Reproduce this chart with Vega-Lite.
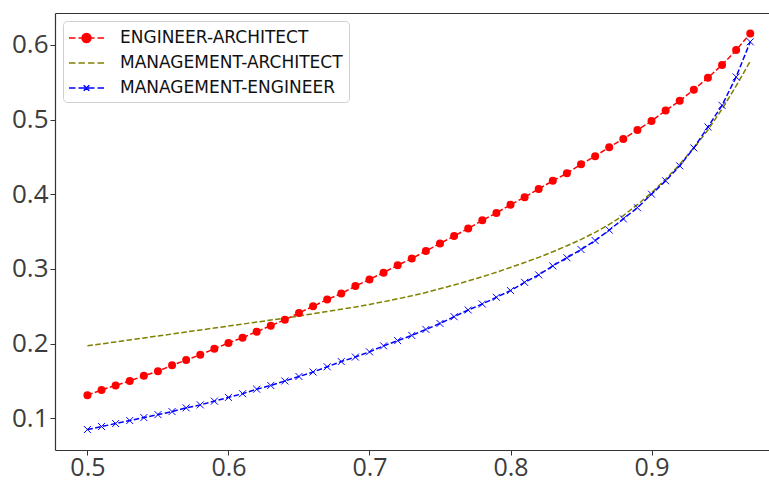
{
  "$schema": "https://vega.github.io/schema/vega-lite/v6.json",
  "width": 714,
  "height": 437,
  "autosize": {"type": "none"},
  "padding": {"left": 55, "top": 13, "right": 0, "bottom": 32},
  "background": "white",
  "config": {
    "view": {"stroke": null},
    "axis": {
      "grid": false,
      "title": null,
      "domainColor": "#333333",
      "domainWidth": 1.2,
      "tickColor": "#333333",
      "tickSize": 5,
      "tickWidth": 1,
      "labelFont": "Open Sans",
      "labelFontSize": 26,
      "labelColor": "#3c3c3c",
      "labelPadding": 2
    }
  },
  "data": {
    "values": [
      {"p":0.50,"v":0.131,"series":"ENGINEER-ARCHITECT"},{"p":0.51,"v":0.138,"series":"ENGINEER-ARCHITECT"},{"p":0.52,"v":0.144,"series":"ENGINEER-ARCHITECT"},{"p":0.53,"v":0.150,"series":"ENGINEER-ARCHITECT"},{"p":0.54,"v":0.157,"series":"ENGINEER-ARCHITECT"},{"p":0.55,"v":0.163,"series":"ENGINEER-ARCHITECT"},{"p":0.56,"v":0.171,"series":"ENGINEER-ARCHITECT"},{"p":0.57,"v":0.178,"series":"ENGINEER-ARCHITECT"},{"p":0.58,"v":0.185,"series":"ENGINEER-ARCHITECT"},{"p":0.59,"v":0.193,"series":"ENGINEER-ARCHITECT"},
      {"p":0.60,"v":0.201,"series":"ENGINEER-ARCHITECT"},{"p":0.61,"v":0.208,"series":"ENGINEER-ARCHITECT"},{"p":0.62,"v":0.216,"series":"ENGINEER-ARCHITECT"},{"p":0.63,"v":0.224,"series":"ENGINEER-ARCHITECT"},{"p":0.64,"v":0.232,"series":"ENGINEER-ARCHITECT"},{"p":0.65,"v":0.241,"series":"ENGINEER-ARCHITECT"},{"p":0.66,"v":0.250,"series":"ENGINEER-ARCHITECT"},{"p":0.67,"v":0.259,"series":"ENGINEER-ARCHITECT"},{"p":0.68,"v":0.267,"series":"ENGINEER-ARCHITECT"},{"p":0.69,"v":0.277,"series":"ENGINEER-ARCHITECT"},
      {"p":0.70,"v":0.286,"series":"ENGINEER-ARCHITECT"},{"p":0.71,"v":0.295,"series":"ENGINEER-ARCHITECT"},{"p":0.72,"v":0.305,"series":"ENGINEER-ARCHITECT"},{"p":0.73,"v":0.314,"series":"ENGINEER-ARCHITECT"},{"p":0.74,"v":0.324,"series":"ENGINEER-ARCHITECT"},{"p":0.75,"v":0.334,"series":"ENGINEER-ARCHITECT"},{"p":0.76,"v":0.344,"series":"ENGINEER-ARCHITECT"},{"p":0.77,"v":0.354,"series":"ENGINEER-ARCHITECT"},{"p":0.78,"v":0.365,"series":"ENGINEER-ARCHITECT"},{"p":0.79,"v":0.375,"series":"ENGINEER-ARCHITECT"},
      {"p":0.80,"v":0.386,"series":"ENGINEER-ARCHITECT"},{"p":0.81,"v":0.396,"series":"ENGINEER-ARCHITECT"},{"p":0.82,"v":0.407,"series":"ENGINEER-ARCHITECT"},{"p":0.83,"v":0.418,"series":"ENGINEER-ARCHITECT"},{"p":0.84,"v":0.428,"series":"ENGINEER-ARCHITECT"},{"p":0.85,"v":0.440,"series":"ENGINEER-ARCHITECT"},{"p":0.86,"v":0.451,"series":"ENGINEER-ARCHITECT"},{"p":0.87,"v":0.463,"series":"ENGINEER-ARCHITECT"},{"p":0.88,"v":0.474,"series":"ENGINEER-ARCHITECT"},{"p":0.89,"v":0.486,"series":"ENGINEER-ARCHITECT"},
      {"p":0.90,"v":0.498,"series":"ENGINEER-ARCHITECT"},{"p":0.91,"v":0.512,"series":"ENGINEER-ARCHITECT"},{"p":0.92,"v":0.525,"series":"ENGINEER-ARCHITECT"},{"p":0.93,"v":0.540,"series":"ENGINEER-ARCHITECT"},{"p":0.94,"v":0.556,"series":"ENGINEER-ARCHITECT"},{"p":0.95,"v":0.573,"series":"ENGINEER-ARCHITECT"},{"p":0.96,"v":0.593,"series":"ENGINEER-ARCHITECT"},{"p":0.97,"v":0.615,"series":"ENGINEER-ARCHITECT"},

      {"p":0.50,"v":0.197,"series":"MANAGEMENT-ARCHITECT"},{"p":0.51,"v":0.1997,"series":"MANAGEMENT-ARCHITECT"},{"p":0.52,"v":0.2023,"series":"MANAGEMENT-ARCHITECT"},{"p":0.53,"v":0.205,"series":"MANAGEMENT-ARCHITECT"},{"p":0.54,"v":0.2076,"series":"MANAGEMENT-ARCHITECT"},{"p":0.55,"v":0.2102,"series":"MANAGEMENT-ARCHITECT"},{"p":0.56,"v":0.2129,"series":"MANAGEMENT-ARCHITECT"},{"p":0.57,"v":0.2156,"series":"MANAGEMENT-ARCHITECT"},{"p":0.58,"v":0.2182,"series":"MANAGEMENT-ARCHITECT"},{"p":0.59,"v":0.2209,"series":"MANAGEMENT-ARCHITECT"},
      {"p":0.60,"v":0.2235,"series":"MANAGEMENT-ARCHITECT"},{"p":0.61,"v":0.2262,"series":"MANAGEMENT-ARCHITECT"},{"p":0.62,"v":0.2288,"series":"MANAGEMENT-ARCHITECT"},{"p":0.63,"v":0.2315,"series":"MANAGEMENT-ARCHITECT"},{"p":0.64,"v":0.2342,"series":"MANAGEMENT-ARCHITECT"},{"p":0.65,"v":0.237,"series":"MANAGEMENT-ARCHITECT"},{"p":0.66,"v":0.240,"series":"MANAGEMENT-ARCHITECT"},{"p":0.67,"v":0.243,"series":"MANAGEMENT-ARCHITECT"},{"p":0.68,"v":0.246,"series":"MANAGEMENT-ARCHITECT"},{"p":0.69,"v":0.249,"series":"MANAGEMENT-ARCHITECT"},
      {"p":0.70,"v":0.2525,"series":"MANAGEMENT-ARCHITECT"},{"p":0.71,"v":0.256,"series":"MANAGEMENT-ARCHITECT"},{"p":0.72,"v":0.260,"series":"MANAGEMENT-ARCHITECT"},{"p":0.73,"v":0.264,"series":"MANAGEMENT-ARCHITECT"},{"p":0.74,"v":0.2685,"series":"MANAGEMENT-ARCHITECT"},{"p":0.75,"v":0.2735,"series":"MANAGEMENT-ARCHITECT"},{"p":0.76,"v":0.2785,"series":"MANAGEMENT-ARCHITECT"},{"p":0.77,"v":0.284,"series":"MANAGEMENT-ARCHITECT"},{"p":0.78,"v":0.2895,"series":"MANAGEMENT-ARCHITECT"},{"p":0.79,"v":0.2955,"series":"MANAGEMENT-ARCHITECT"},
      {"p":0.80,"v":0.302,"series":"MANAGEMENT-ARCHITECT"},{"p":0.81,"v":0.3085,"series":"MANAGEMENT-ARCHITECT"},{"p":0.82,"v":0.3155,"series":"MANAGEMENT-ARCHITECT"},{"p":0.83,"v":0.323,"series":"MANAGEMENT-ARCHITECT"},{"p":0.84,"v":0.331,"series":"MANAGEMENT-ARCHITECT"},{"p":0.85,"v":0.3395,"series":"MANAGEMENT-ARCHITECT"},{"p":0.86,"v":0.349,"series":"MANAGEMENT-ARCHITECT"},{"p":0.87,"v":0.3595,"series":"MANAGEMENT-ARCHITECT"},{"p":0.88,"v":0.3715,"series":"MANAGEMENT-ARCHITECT"},{"p":0.89,"v":0.386,"series":"MANAGEMENT-ARCHITECT"},
      {"p":0.90,"v":0.402,"series":"MANAGEMENT-ARCHITECT"},{"p":0.91,"v":0.420,"series":"MANAGEMENT-ARCHITECT"},{"p":0.92,"v":0.440,"series":"MANAGEMENT-ARCHITECT"},{"p":0.93,"v":0.462,"series":"MANAGEMENT-ARCHITECT"},{"p":0.94,"v":0.486,"series":"MANAGEMENT-ARCHITECT"},{"p":0.95,"v":0.514,"series":"MANAGEMENT-ARCHITECT"},{"p":0.96,"v":0.545,"series":"MANAGEMENT-ARCHITECT"},{"p":0.97,"v":0.578,"series":"MANAGEMENT-ARCHITECT"},

      {"p":0.50,"v":0.085,"series":"MANAGEMENT-ENGINEER"},{"p":0.51,"v":0.089,"series":"MANAGEMENT-ENGINEER"},{"p":0.52,"v":0.093,"series":"MANAGEMENT-ENGINEER"},{"p":0.53,"v":0.097,"series":"MANAGEMENT-ENGINEER"},{"p":0.54,"v":0.101,"series":"MANAGEMENT-ENGINEER"},{"p":0.55,"v":0.105,"series":"MANAGEMENT-ENGINEER"},{"p":0.56,"v":0.109,"series":"MANAGEMENT-ENGINEER"},{"p":0.57,"v":0.114,"series":"MANAGEMENT-ENGINEER"},{"p":0.58,"v":0.118,"series":"MANAGEMENT-ENGINEER"},{"p":0.59,"v":0.123,"series":"MANAGEMENT-ENGINEER"},
      {"p":0.60,"v":0.128,"series":"MANAGEMENT-ENGINEER"},{"p":0.61,"v":0.133,"series":"MANAGEMENT-ENGINEER"},{"p":0.62,"v":0.139,"series":"MANAGEMENT-ENGINEER"},{"p":0.63,"v":0.144,"series":"MANAGEMENT-ENGINEER"},{"p":0.64,"v":0.150,"series":"MANAGEMENT-ENGINEER"},{"p":0.65,"v":0.156,"series":"MANAGEMENT-ENGINEER"},{"p":0.66,"v":0.162,"series":"MANAGEMENT-ENGINEER"},{"p":0.67,"v":0.169,"series":"MANAGEMENT-ENGINEER"},{"p":0.68,"v":0.176,"series":"MANAGEMENT-ENGINEER"},{"p":0.69,"v":0.182,"series":"MANAGEMENT-ENGINEER"},
      {"p":0.70,"v":0.189,"series":"MANAGEMENT-ENGINEER"},{"p":0.71,"v":0.197,"series":"MANAGEMENT-ENGINEER"},{"p":0.72,"v":0.204,"series":"MANAGEMENT-ENGINEER"},{"p":0.73,"v":0.211,"series":"MANAGEMENT-ENGINEER"},{"p":0.74,"v":0.219,"series":"MANAGEMENT-ENGINEER"},{"p":0.75,"v":0.227,"series":"MANAGEMENT-ENGINEER"},{"p":0.76,"v":0.236,"series":"MANAGEMENT-ENGINEER"},{"p":0.77,"v":0.245,"series":"MANAGEMENT-ENGINEER"},{"p":0.78,"v":0.253,"series":"MANAGEMENT-ENGINEER"},{"p":0.79,"v":0.262,"series":"MANAGEMENT-ENGINEER"},
      {"p":0.80,"v":0.271,"series":"MANAGEMENT-ENGINEER"},{"p":0.81,"v":0.282,"series":"MANAGEMENT-ENGINEER"},{"p":0.82,"v":0.292,"series":"MANAGEMENT-ENGINEER"},{"p":0.83,"v":0.304,"series":"MANAGEMENT-ENGINEER"},{"p":0.84,"v":0.315,"series":"MANAGEMENT-ENGINEER"},{"p":0.85,"v":0.326,"series":"MANAGEMENT-ENGINEER"},{"p":0.86,"v":0.338,"series":"MANAGEMENT-ENGINEER"},{"p":0.87,"v":0.352,"series":"MANAGEMENT-ENGINEER"},{"p":0.88,"v":0.367,"series":"MANAGEMENT-ENGINEER"},{"p":0.89,"v":0.382,"series":"MANAGEMENT-ENGINEER"},
      {"p":0.90,"v":0.400,"series":"MANAGEMENT-ENGINEER"},{"p":0.91,"v":0.418,"series":"MANAGEMENT-ENGINEER"},{"p":0.92,"v":0.438,"series":"MANAGEMENT-ENGINEER"},{"p":0.93,"v":0.462,"series":"MANAGEMENT-ENGINEER"},{"p":0.94,"v":0.490,"series":"MANAGEMENT-ENGINEER"},{"p":0.95,"v":0.519,"series":"MANAGEMENT-ENGINEER"},{"p":0.96,"v":0.557,"series":"MANAGEMENT-ENGINEER"},{"p":0.97,"v":0.604,"series":"MANAGEMENT-ENGINEER"}
    ]
  },
  "resolve": {"axis": {"x": "independent"}},
  "layer": [
    {
      "mark": {"type": "line", "strokeWidth": 1.5, "strokeDash": [5.5, 2.4]},
      "encoding": {
        "x": {"field": "p", "type": "quantitative", "scale": {"domain": [0.477, 0.9833], "nice": false, "zero": false},
              "axis": {"orient": "bottom", "values": [0.5, 0.6, 0.7, 0.8, 0.9], "format": ".1f", "labelPadding": 0, "labelFontSize": 25}},
        "y": {"field": "v", "type": "quantitative", "scale": {"domain": [0.0576, 0.6426], "nice": false, "zero": false},
              "axis": {"values": [0.1, 0.2, 0.3, 0.4, 0.5, 0.6], "format": ".1f"}},
        "color": {
          "field": "series", "type": "nominal",
          "scale": {"domain": ["ENGINEER-ARCHITECT", "MANAGEMENT-ARCHITECT", "MANAGEMENT-ENGINEER"], "range": ["#ff0000", "#808000", "#0000ff"]},
          "legend": {
            "title": null,
            "orient": "none",
            "legendX": 8,
            "legendY": 8,
            "padding": 6,
            "fillColor": "white",
            "strokeColor": "#d0d0d0",
            "cornerRadius": 4,
            "labelFont": "DejaVu Sans",
            "labelFontSize": 17,
            "labelColor": "#111111",
            "labelLimit": 400,
            "labelOffset": 22.5,
            "symbolOffset": 6.5,
            "symbolSize": 400,
            "symbolStrokeWidth": 1.5,
            "rowPadding": 6,
            "encode": {
              "symbols": {
                "update": {
                  "shape": {"signal": "datum.value === 'ENGINEER-ARCHITECT' ? 'M-1.75,0L-1.1,0M-0.8,0L-0.16,0M0.16,0L0.8,0M1.1,0L1.75,0M-0.45,0A0.45,0.45 0 1,0 0.45,0A0.45,0.45 0 1,0 -0.45,0Z' : datum.value === 'MANAGEMENT-ARCHITECT' ? 'M-1.75,0L-1.1,0M-0.8,0L-0.16,0M0.16,0L0.8,0M1.1,0L1.75,0' : 'M-1.75,0L-1.1,0M-0.8,0L-0.16,0M0.16,0L0.8,0M1.1,0L1.75,0M-0.28,-0.28L0.28,0.28M-0.28,0.28L0.28,-0.28'"},
                  "fill": {"signal": "scale('color', datum.value)"},
                  "stroke": {"signal": "scale('color', datum.value)"},
                  "strokeDash": {"value": []},
                  "opacity": {"value": 1}
                }
              }
            }
          }
        }
      }
    },
    {
      "transform": [{"filter": "datum.series === 'ENGINEER-ARCHITECT'"}],
      "mark": {"type": "circle", "size": 64, "color": "#ff0000", "opacity": 1},
      "encoding": {
        "x": {"field": "p", "type": "quantitative", "axis": {"orient": "top", "labels": false, "ticks": false, "domain": true}},
        "y": {"field": "v", "type": "quantitative"}
      }
    },
    {
      "transform": [{"filter": "datum.series === 'MANAGEMENT-ENGINEER'"}],
      "mark": {"type": "point", "shape": "M-1,-1L1,1M-1,1L1,-1", "size": 49, "filled": false, "color": "#0000ff", "strokeWidth": 1, "opacity": 1},
      "encoding": {
        "x": {"field": "p", "type": "quantitative", "axis": null},
        "y": {"field": "v", "type": "quantitative"}
      }
    }
  ]
}
